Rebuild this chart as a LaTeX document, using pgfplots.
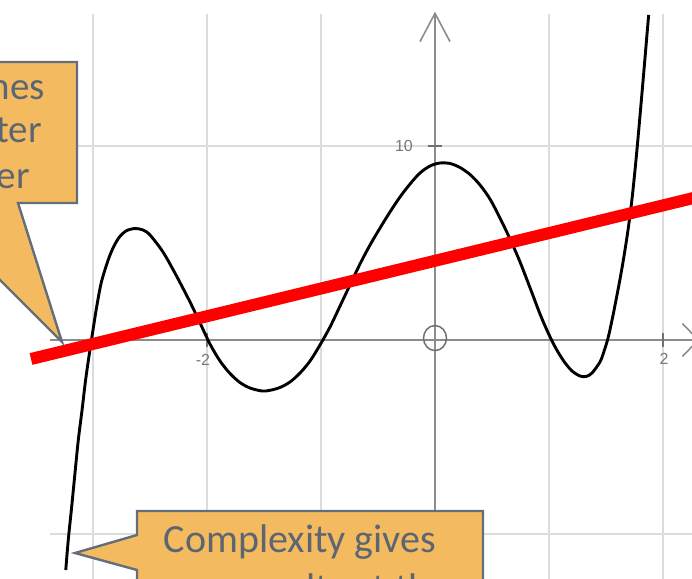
\documentclass[border=0pt]{standalone}
\usepackage{fontspec}
\setmainfont{Carlito}
\newfontfamily\labelfont{Liberation Sans}
\usepackage{pgfplots}
\pgfplotsset{compat=1.18}
\definecolor{gridc}{RGB}{220,220,220}
\definecolor{axisc}{RGB}{140,140,140}
\definecolor{labelc}{RGB}{120,120,120}
\definecolor{calloutfill}{RGB}{244,186,96}
\definecolor{calloutdraw}{RGB}{100,110,122}
\definecolor{callouttext}{RGB}{92,102,114}

\begin{document}
\begin{tikzpicture}
\useasboundingbox (0,0) rectangle (692pt,578pt);
\begin{axis}[
  at={(0pt,0pt)}, anchor=south west,
  scale only axis, width=692pt, height=578pt,
  xmin=-3.8158, xmax=2.2544, ymin=-12.268, ymax=17.526,
  axis lines=none, clip=true]

% grid
\draw[gridc, line width=2.6pt] (axis cs:-3,-12.6) -- (axis cs:-3,16.8);
\draw[gridc, line width=2.6pt] (axis cs:-2,-12.6) -- (axis cs:-2,16.8);
\draw[gridc, line width=2.6pt] (axis cs:-1,-12.6) -- (axis cs:-1,16.8);
\draw[gridc, line width=2.6pt] (axis cs:1,-12.6) -- (axis cs:1,16.8);
\draw[gridc, line width=2.6pt] (axis cs:2,-12.6) -- (axis cs:2,16.8);
\draw[gridc, line width=2.6pt] (axis cs:-3.38,10) -- (axis cs:2.4,10);
\draw[gridc, line width=2.6pt] (axis cs:-3.38,-10) -- (axis cs:2.4,-10);

% axes with open arrow heads
\draw[axisc, line width=2pt] (axis cs:-3.38,0) -- (axis cs:2.31,0);
\draw[axisc, line width=1.6pt] (axis cs:2.17,0.85) -- (axis cs:2.31,0) -- (axis cs:2.17,-0.85);
\draw[axisc, line width=2pt] (axis cs:0,-12.6) -- (axis cs:0,16.84);
\draw[axisc, line width=1.6pt] (axis cs:-0.1316,15.38) -- (axis cs:0,16.84) -- (axis cs:0.1316,15.38);

% ticks and labels
\draw[axisc!80!black, line width=1.6pt] (axis cs:-0.06,10) -- (axis cs:0.06,10);
\draw[axisc!80!black, line width=1.6pt] (axis cs:-2,-0.36) -- (axis cs:-2,0.36);
\draw[axisc!80!black, line width=1.6pt] (axis cs:2,-0.36) -- (axis cs:2,0.36);
\node[text=labelc, font=\labelfont\fontsize{16}{18}\selectfont] at (axis cs:-0.272,10) {10};
\node[text=labelc, font=\labelfont\fontsize{16}{18}\selectfont] at (axis cs:-2.035,-1.03) {-2};
\node[text=labelc, font=\labelfont\fontsize{16}{18}\selectfont] at (axis cs:2.009,-0.98) {2};
\draw[axisc!80!black, line width=1.5pt] (axis cs:0,0.1) ellipse [x radius=11.5pt, y radius=12.5pt];

% fitted high-order polynomial
\addplot[black, line width=2.9pt, smooth, tension=0.5] coordinates {
(-3.239,-11.856) (-3.217,-10.309) (-3.187,-8.593) (-3.158,-6.856) (-3.129,-5.155)
(-3.096,-3.608) (-3.066,-2.113) (-3.035,-0.825) (-3.004,0.361) (-2.968,1.701)
(-2.924,3.041) (-2.851,4.381) (-2.781,5.206) (-2.711,5.619) (-2.632,5.747)
(-2.561,5.670) (-2.500,5.412) (-2.386,4.536) (-2.272,3.351) (-2.149,1.959)
(-2.061,0.876) (-1.974,-0.206) (-1.886,-1.082) (-1.798,-1.727) (-1.711,-2.191)
(-1.623,-2.474) (-1.518,-2.629) (-1.447,-2.593) (-1.360,-2.448) (-1.272,-2.165)
(-1.184,-1.701) (-1.096,-1.082) (-1.009,-0.258) (-0.921,0.670) (-0.833,1.753)
(-0.746,2.835) (-0.658,3.918) (-0.570,4.897) (-0.482,5.773) (-0.395,6.598)
(-0.307,7.371) (-0.219,8.041) (-0.132,8.608) (-0.044,8.969) (0.044,9.124)
(0.132,9.098) (0.219,8.892) (0.307,8.531) (0.395,7.990) (0.482,7.268)
(0.570,6.289) (0.658,5.206) (0.746,4.021) (0.851,2.423) (0.921,1.340)
(0.991,0.387) (1.061,-0.438) (1.132,-1.108) (1.202,-1.598) (1.272,-1.856)
(1.325,-1.881) (1.377,-1.701) (1.447,-1.134) (1.482,-0.593) (1.518,0.103)
(1.553,1.031) (1.588,2.062) (1.623,3.144) (1.658,4.330) (1.693,5.670)
(1.728,7.268) (1.763,9.278) (1.798,11.546) (1.833,13.918) (1.874,16.753)
};

% straight-line fit
\addplot[red, line width=12pt, line cap=butt] coordinates {(-3.544,-0.979) (2.4,7.509)};
\end{axis}

% callouts
\begin{scope}[x=1pt, y=-1pt, yshift=578pt]
\clip (0,0) rectangle (692,578);
\filldraw[fill=calloutfill, draw=calloutdraw, line width=2.4pt]
  (-140,62) -- (77,62) -- (77,203) -- (18,203) -- (62,342) -- (-77,203) -- (-140,203) -- cycle;
\node[anchor=base east, inner sep=0pt, text=callouttext, font=\fontsize{39}{45}\selectfont] at (45,100) {Simple lines};
\node[anchor=base east, inner sep=0pt, text=callouttext, font=\fontsize{39}{45}\selectfont] at (42,143) {sometimes fit better};
\node[anchor=base east, inner sep=0pt, text=callouttext, font=\fontsize{39}{45}\selectfont] at (30,189) {than higher order};

\filldraw[fill=calloutfill, draw=calloutdraw, line width=2.4pt]
  (137,511) -- (483,511) -- (483,640) -- (137,640) -- (137,570) -- (75,553) -- (137,535) -- cycle;
\node[anchor=base, inner sep=0pt, text=callouttext, font=\fontsize{40}{49}\selectfont] at (300,552) {Complexity gives};
\node[anchor=base, inner sep=0pt, text=callouttext, font=\fontsize{40}{49}\selectfont] at (300,601) {poor results at the};
\end{scope}
\end{tikzpicture}
\end{document}
